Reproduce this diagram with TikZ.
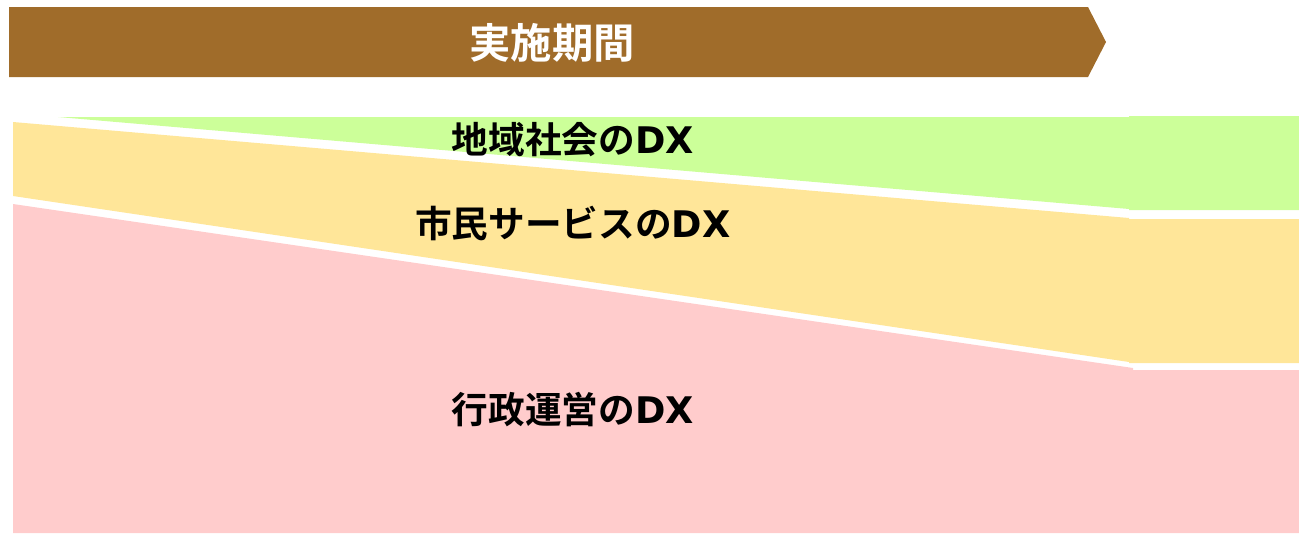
\documentclass[tikz,border=0pt]{standalone}
\usepackage{fontspec}
\setmainfont{Noto Sans CJK JP}
\newfontfamily\jpb{Noto Sans CJK JP Bold}
\newfontfamily\latb{DejaVu Sans Bold}
\newcommand{\dxtext}{{\latb DX}}
\definecolor{brownbar}{RGB}{160,108,42}
\definecolor{bandgreen}{RGB}{204,255,153}
\definecolor{bandyellow}{RGB}{255,230,153}
\definecolor{bandpink}{RGB}{255,204,204}
\tikzset{
  lbl/.style={font=\jpb\fontsize{27.5}{32}\selectfont, text=black, inner sep=0pt, anchor=center},
  ttl/.style={font=\jpb\fontsize{31}{36}\selectfont, text=white, inner sep=0pt, anchor=center},
}
\begin{document}
\begin{tikzpicture}[x=0.75pt,y=-0.75pt]
\useasboundingbox (0,0) rectangle (1299,533);
% banner
\fill[brownbar] (9,7) -- (1088,7) -- (1106,42) -- (1088,77) -- (9,77) -- cycle;
\node[ttl] (title) at (552,43) {実施期間};
% green band
\fill[bandgreen] (58,117) -- (1129,117) -- (1129,116) -- (1299,116) -- (1299,210) -- (1129,210) -- (1129,209) -- cycle;
% yellow band
\fill[bandyellow] (13,122) -- (1129,218) -- (1129,219) -- (1299,219) -- (1299,363) -- (1129,363) -- (1129,362) -- (13,196) -- cycle;
% pink band
\fill[bandpink] (13,204) -- (1133,368) -- (1133,370) -- (1299,370) -- (1299,533) -- (13,533) -- cycle;
\node[lbl] (g) at (573,140) {地域社会の\dxtext};
\node[lbl] (y) at (573,223) {市民サービスの\dxtext};
\node[lbl] (p) at (573,410) {行政運営の\dxtext};
\end{tikzpicture}
\end{document}
